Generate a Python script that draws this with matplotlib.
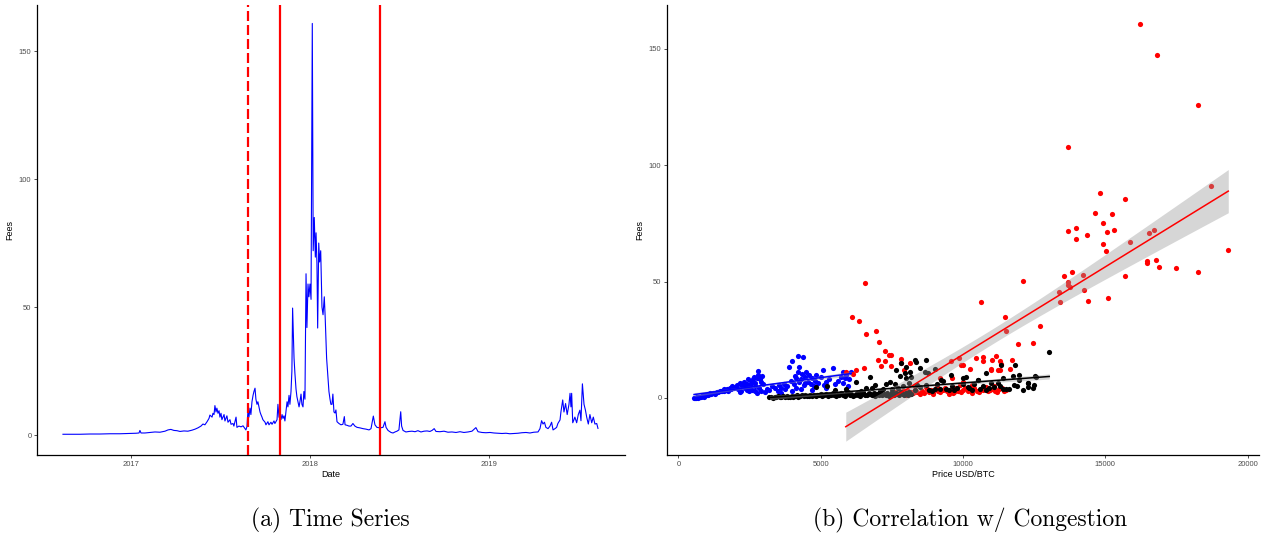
import numpy as np
import matplotlib
matplotlib.use("Agg")
import matplotlib.pyplot as plt

# ---------------- data: (a) time series (decimal year, fees) ----------------
ts_year = [2016.620, 2016.659, 2016.715, 2016.771, 2016.827, 2016.883, 2016.939, 2016.994, 2017.028, 2017.045,
           2017.050, 2017.056, 2017.078, 2017.106, 2017.134, 2017.162, 2017.190, 2017.207, 2017.223, 2017.240,
           2017.257, 2017.274, 2017.296, 2017.318, 2017.341, 2017.358, 2017.374, 2017.391, 2017.402, 2017.413,
           2017.425, 2017.436, 2017.441, 2017.453, 2017.458, 2017.464, 2017.469, 2017.475, 2017.480, 2017.486,
           2017.492, 2017.497, 2017.503, 2017.508, 2017.520, 2017.525, 2017.536, 2017.542, 2017.553, 2017.559,
           2017.570, 2017.575, 2017.587, 2017.592, 2017.603, 2017.615, 2017.626, 2017.637, 2017.642, 2017.648,
           2017.654, 2017.659, 2017.665, 2017.670, 2017.676, 2017.682, 2017.687, 2017.693, 2017.698, 2017.704,
           2017.709, 2017.715, 2017.721, 2017.726, 2017.732, 2017.737, 2017.749, 2017.754, 2017.765, 2017.771,
           2017.782, 2017.788, 2017.799, 2017.804, 2017.816, 2017.821, 2017.827, 2017.838, 2017.844, 2017.849,
           2017.855, 2017.860, 2017.872, 2017.877, 2017.883, 2017.888, 2017.894, 2017.899, 2017.903, 2017.911,
           2017.916, 2017.922, 2017.927, 2017.933, 2017.939, 2017.944, 2017.950, 2017.955, 2017.961, 2017.966,
           2017.972, 2017.978, 2017.983, 2017.989, 2017.994, 2018.000, 2018.006, 2018.013, 2018.018, 2018.024,
           2018.030, 2018.034, 2018.039, 2018.043, 2018.049, 2018.054, 2018.060, 2018.067, 2018.073, 2018.080,
           2018.085, 2018.093, 2018.101, 2018.106, 2018.112, 2018.117, 2018.123, 2018.128, 2018.134, 2018.140,
           2018.145, 2018.151, 2018.162, 2018.173, 2018.184, 2018.192, 2018.196, 2018.207, 2018.218, 2018.229,
           2018.240, 2018.251, 2018.263, 2018.279, 2018.296, 2018.313, 2018.330, 2018.341, 2018.354, 2018.363,
           2018.374, 2018.391, 2018.408, 2018.419, 2018.425, 2018.436, 2018.453, 2018.464, 2018.475, 2018.486,
           2018.497, 2018.507, 2018.512, 2018.520, 2018.536, 2018.553, 2018.570, 2018.587, 2018.603, 2018.620,
           2018.637, 2018.654, 2018.670, 2018.682, 2018.694, 2018.704, 2018.726, 2018.749, 2018.771, 2018.793,
           2018.816, 2018.838, 2018.860, 2018.883, 2018.905, 2018.927, 2018.939, 2018.961, 2018.983, 2019.006,
           2019.028, 2019.050, 2019.073, 2019.095, 2019.117, 2019.140, 2019.162, 2019.184, 2019.207, 2019.229,
           2019.251, 2019.274, 2019.285, 2019.294, 2019.302, 2019.310, 2019.318, 2019.330, 2019.341, 2019.350,
           2019.358, 2019.369, 2019.378, 2019.385, 2019.397, 2019.402, 2019.412, 2019.419, 2019.428, 2019.437,
           2019.447, 2019.453, 2019.458, 2019.462, 2019.468, 2019.475, 2019.480, 2019.490, 2019.499, 2019.508,
           2019.514, 2019.522, 2019.531, 2019.539, 2019.546, 2019.555, 2019.564, 2019.574, 2019.583, 2019.592,
           2019.602, 2019.609]
ts_fees = [0.3, 0.3, 0.3, 0.4, 0.4, 0.5, 0.5, 0.6, 0.7, 0.8,
           1.8, 0.8, 0.8, 1.0, 1.2, 1.1, 1.5, 2.0, 2.2, 1.8,
           1.7, 1.4, 1.6, 1.5, 1.9, 2.3, 2.8, 3.5, 4.3, 4.0,
           5.2, 6.5, 7.8, 7.0, 8.5, 8.0, 11.5, 9.0, 10.5, 8.5,
           9.5, 7.0, 8.5, 6.0, 8.0, 5.5, 7.5, 5.0, 6.0, 4.2,
           4.5, 3.5, 7.0, 3.0, 3.5, 3.2, 3.6, 2.5, 2.0, 3.3,
           9.8, 7.0, 10.5, 8.0, 13.0, 15.5, 17.0, 18.3, 14.0, 12.0,
           13.0, 11.0, 9.0, 8.0, 7.0, 6.0, 5.0, 4.0, 5.2, 4.0,
           5.0, 4.2, 5.5, 4.5, 6.0, 12.0, 7.0, 6.0, 8.0, 6.5,
           7.5, 5.5, 13.0, 11.0, 15.5, 12.0, 17.0, 25.0, 49.6, 30.0,
           24.0, 18.0, 15.0, 13.0, 11.0, 13.0, 16.0, 12.0, 11.0, 17.0,
           14.0, 63.0, 42.0, 59.0, 54.0, 59.0, 53.0, 160.8, 72.0, 85.0,
           69.5, 79.0, 67.0, 41.8, 75.0, 67.6, 72.0, 50.0, 47.0, 54.0,
           46.0, 30.0, 22.0, 17.0, 14.0, 12.0, 12.0, 16.0, 9.0, 8.6,
           9.8, 5.2, 4.5, 4.0, 4.2, 7.2, 4.0, 3.8, 3.5, 3.5,
           4.5, 3.5, 3.0, 2.8, 2.5, 2.3, 2.0, 2.5, 7.4, 4.0,
           3.0, 2.8, 3.0, 5.2, 3.0, 1.8, 1.0, 0.8, 1.2, 1.5,
           2.0, 9.1, 3.5, 1.8, 1.2, 1.4, 1.5, 1.3, 1.7, 1.2,
           1.5, 1.6, 1.4, 1.8, 2.5, 1.4, 1.3, 1.5, 1.1, 1.2,
           1.0, 1.3, 1.0, 1.2, 1.5, 2.9, 1.3, 1.0, 0.9, 1.0,
           0.8, 0.7, 0.6, 0.7, 0.5, 0.6, 0.7, 0.9, 1.0, 0.8,
           1.1, 1.2, 2.5, 5.6, 4.3, 5.0, 3.0, 2.5, 3.5, 5.0,
           2.0, 2.5, 3.0, 4.5, 5.9, 9.0, 13.7, 9.0, 12.3, 8.0,
           12.0, 16.3, 11.0, 16.3, 4.8, 6.0, 7.0, 4.8, 8.0, 9.7,
           5.6, 20.0, 12.0, 9.7, 7.0, 4.3, 8.0, 4.8, 7.0, 4.3,
           4.5, 2.6]
event_dashed = [2017.654]
event_solid = [2017.832, 2018.391]
ts_ticks = [2017, 2018, 2019]
ts_ticklabels = ["2017", "2018", "2019"]

# ---------------- data: (b) price vs fees, three periods ----------------
blue_x = [550, 580, 610, 640, 670, 700, 730, 760, 790, 820, 850, 880, 910, 940, 970, 1000, 1040, 1080, 1120, 1160,
          1200, 1250, 1300, 1350, 1400, 1450, 1500, 1550, 1600, 1650, 1700, 1750, 1800, 1850, 1900, 1950, 2000,
          700, 900, 1100, 1300, 1600, 1750, 1900,
          2050, 2100, 2150, 2200, 2250, 2300, 2350, 2400, 2450, 2500, 2550, 2600, 2650, 2700, 2750, 2780, 2800,
          2850, 2900, 2950, 2150, 2300, 2420, 2520, 2620, 2700, 2760, 2860, 2920, 2980, 2480, 2580, 2680, 2880,
          3050, 3100, 3200, 3300, 3400, 3500, 3550, 3600, 3700, 3750, 3800, 3900, 3950, 4000, 4050, 4100, 4150,
          4195, 4200, 4254, 4300, 4371, 4400, 4450, 4490, 4550, 4600, 4650, 4700, 4750, 4800, 4850, 4900, 5000,
          5074, 5100, 5200, 5300, 5425, 5500, 5600, 5700, 5777, 5800, 5850, 5900, 5950, 6000, 6072, 3600, 4000,
          4300, 4700, 5200, 4250, 4150, 4350, 4450]
blue_y = [0.1, 0.2, 0.1, 0.3, 0.4, 0.3, 0.5, 0.6, 0.5, 0.8, 0.9, 1.0, 0.9, 1.2, 1.3, 1.4, 1.5, 1.7, 1.6, 1.9,
          2.0, 2.3, 2.2, 2.5, 2.6, 2.8, 3.0, 3.2, 3.1, 3.5, 3.7, 3.6, 4.2, 4.0, 4.5, 4.3, 4.8,
          0.0, 0.4, 2.3, 1.6, 3.9, 3.0, 5.2,
          5.5, 4.0, 6.5, 3.2, 5.0, 7.0, 4.5, 6.0, 8.0, 5.5, 7.5, 3.5, 9.0, 6.5, 8.5, 11.6, 10.0,
          4.5, 7.0, 9.5, 2.5, 6.2, 3.5, 4.2, 8.0, 3.0, 2.0, 9.0, 3.0, 6.0, 2.8, 6.8, 5.2, 8.2,
          2.5, 4.0, 3.5, 5.0, 4.2, 3.0, 5.5, 4.5, 6.0, 3.8, 5.2, 13.5, 7.5, 15.9, 6.0, 9.5, 4.5,
          18.2, 11.0, 13.5, 8.0, 17.7, 5.5, 9.0, 11.3, 7.0, 10.0, 6.0, 8.5, 5.0, 7.5, 10.0, 6.5, 9.0,
          12.0, 5.5, 7.0, 8.0, 12.8, 6.0, 7.5, 9.0, 11.3, 6.5, 8.5, 10.0, 5.0, 8.0, 11.0, 2.0, 3.0,
          4.0, 3.5, 4.5, 7.0, 8.5, 10.5, 6.5]

red_x = [16230, 16806, 18259, 13704, 18720, 14822, 15688, 14626, 15241, 14906,
         13970, 13677, 15311, 15059, 16526, 16708, 13955, 14361, 15870, 14906,
         15031, 19320, 16470, 16470, 16764, 16904, 17477, 18259, 15688, 13844,
         13537, 14222, 13704, 13704, 13746, 12112, 13369, 14264, 13397, 14403,
         15087, 10617, 11483, 11497, 12699, 11916, 12461,
         6552, 6105, 6329, 6957, 6580, 7041, 7264, 6999, 7404, 7474,
         7250, 7125, 7474, 7837, 7837, 8130, 6524, 6231, 6119, 5881,
         7935, 9583, 9849, 9933, 10017, 10240, 10450, 10715, 10715, 11022,
         11148, 10994, 10994, 11232, 11316, 11302, 11344, 11665, 11707, 9178,
         9625, 10017,
         7520, 7600, 7680, 7760, 7840, 7920, 8000, 8080, 8160, 8240,
         8320, 8400, 8480, 8560, 8640, 8720, 8800, 8880, 8960, 9040,
         9120, 9200, 9280, 9360, 9440, 9520, 9600, 9680, 9760, 9840,
         9920, 10000, 10080, 10160, 10240, 10320, 10400, 10480, 10560, 10640,
         10720, 10800, 10880, 10960, 11040, 11120, 11200, 11280, 11360, 11440,
         11520, 8300, 8700, 9100, 9500, 9900, 10300, 10700, 11100, 8950,
         9650, 7900]
red_y = [160.7, 147.4, 125.9, 107.7, 91.0, 88.3, 85.4, 79.3, 79.1, 75.0,
         73.1, 71.9, 72.1, 71.4, 71.1, 72.3, 68.3, 69.9, 67.1, 66.3,
         63.3, 63.7, 59.0, 58.1, 59.4, 56.1, 56.0, 54.0, 52.4, 54.1,
         52.6, 52.7, 49.7, 48.4, 47.6, 50.4, 45.6, 46.3, 41.3, 41.9,
         43.1, 41.3, 35.0, 28.9, 31.1, 23.0, 23.7,
         49.6, 35.0, 32.9, 28.9, 27.6, 24.0, 20.3, 16.4, 18.6, 18.6,
         15.7, 13.6, 13.9, 16.9, 15.0, 15.0, 12.9, 12.1, 10.3, 11.0,
         12.1, 16.0, 17.0, 14.0, 14.0, 12.4, 17.4, 15.7, 17.7, 16.3,
         18.1, 12.1, 12.6, 11.9, 11.9, 15.7, 14.6, 12.4, 16.4, 8.6,
         8.6, 6.9,
         2.0, 2.5, 1.8, 3.0, 2.2, 2.8, 1.5, 3.2, 2.4, 2.0,
         3.5, 2.7, 1.9, 3.0, 2.3, 4.0, 2.6, 3.3, 2.1, 3.8,
         2.9, 2.4, 3.6, 4.2, 2.8, 3.1, 3.9, 2.5, 4.5, 3.0,
         2.6, 3.4, 4.1, 2.9, 3.7, 2.3, 4.4, 3.2, 2.7, 3.9,
         3.3, 4.6, 2.8, 3.6, 4.0, 3.1, 2.5, 3.8, 4.3, 2.9,
         3.4, 5.0, 4.8, 5.2, 1.6, 5.6, 5.4, 4.9, 5.1, 1.8,
         2.0, 3.0]

black_x = [3200, 3260, 3320, 3380, 3440, 3500, 3560, 3620, 3680, 3740,
           3800, 3860, 3920, 3980, 4040, 4100, 4160, 4220, 4280, 4340,
           4400, 4460, 4520, 4580, 4640, 4700, 4760, 4820, 4880, 4940,
           5000, 5060, 5120, 5180, 5240, 5300, 5360, 5420, 5480, 5540,
           5600, 5660, 5720, 5780, 5840, 5900, 5960, 6020, 6080, 6140,
           6200, 6260, 6320, 6380, 6440, 6500, 6560, 6620, 6680, 6740,
           6800, 6860, 6920, 6980, 7040, 7100, 7160, 7220, 7280, 7340,
           7400, 7460, 7520, 7580, 7640, 7700, 7760, 7820, 7880, 7940,
           8000, 8060, 8120, 8180,
           4840, 5230, 5500, 5900, 6250, 6400, 6600, 6900, 7100, 7300,
           7500, 7700, 7900, 8100, 8300, 8500, 8700, 8900, 9100, 9236,
           9400, 9600, 9800, 10000, 10160, 10300, 10525, 10700, 11000, 11227,
           11400, 11600, 11800, 11950, 12100, 12270, 12450, 9000, 9500, 10400,
           10900, 11300, 8800, 8400, 7600, 7200, 6800,
           9200, 9700, 10200, 10600, 11100, 11500, 11900, 12300, 12500, 10800,
           6716, 7419, 7654, 7830, 7946, 8005, 8122, 8181, 8298, 8357,
           8650, 8709, 8778, 9587, 9997, 10115, 10525, 10818, 11345, 11400,
           11750, 11814, 11967, 12294, 12545, 12576, 13030, 8500, 8000, 9000,
           7800, 9300]
black_y = [0.3, 0.5, 0.2, 0.6, 0.4, 0.8, 0.3, 0.5, 0.7, 0.4,
           0.9, 0.5, 0.6, 1.0, 0.4, 0.8, 1.2, 0.6, 0.9, 1.1,
           0.7, 1.3, 0.8, 1.0, 1.5, 0.9, 1.2, 0.7, 1.4, 1.1,
           1.6, 0.9, 1.3, 1.8, 1.0, 1.5, 1.2, 2.0, 1.4, 0.9,
           1.7, 1.1, 2.2, 1.3, 1.0, 1.6, 2.4, 1.2, 1.8, 1.0,
           1.5, 2.1, 1.3, 0.9, 1.7, 2.6, 1.4, 1.1, 2.0, 1.6,
           1.2, 2.3, 1.0, 1.8, 1.5, 2.7, 1.2, 1.9, 1.4, 2.2,
           1.0, 1.7, 2.5, 1.3, 2.0, 1.6, 1.1, 2.4, 1.8, 1.4,
           2.1, 1.2, 2.6, 1.7,
           4.9, 5.2, 3.5, 4.0, 7.0, 3.2, 4.5, 5.5, 3.0, 6.0,
           3.8, 4.2, 5.0, 6.5, 3.5, 4.8, 5.5, 3.2, 6.0, 7.7,
           3.8, 5.0, 4.2, 6.2, 4.6, 3.5, 7.7, 5.0, 6.6, 6.3,
           4.0, 3.8, 5.5, 7.7, 3.6, 6.4, 4.5, 4.0, 3.3, 5.8,
           4.2, 5.2, 3.6, 5.5, 6.2, 3.8, 4.4,
           4.0, 3.6, 4.4, 3.8, 4.6, 4.0, 5.0, 4.8, 5.5, 3.4,
           9.2, 7.0, 12.0, 14.9, 10.6, 13.5, 11.3, 9.2, 16.3, 15.5,
           11.3, 16.3, 10.6, 9.9, 8.4, 9.2, 7.7, 10.9, 14.2, 8.4,
           9.5, 14.2, 9.9, 6.4, 9.3, 8.9, 19.9, 13.0, 8.5, 12.5,
           9.5, 7.5]

price_ticks = [0, 5000, 10000, 15000, 20000]
fee_ticks = [0, 50, 100, 150]

assert len(ts_year) == len(ts_fees)
assert len(blue_x) == len(blue_y)
assert len(red_x) == len(red_y)
assert len(black_x) == len(black_y)

# ---------------- figure ----------------
W, H = 1265, 542
fig = plt.figure(figsize=(W / 100, H / 100), dpi=100)


def rect(l, t, r, b):
    return [l / W, 1 - b / H, (r - l) / W, (b - t) / H]


SANS = ["Liberation Sans", "DejaVu Sans"]


def style(ax):
    for s in ("top", "right"):
        ax.spines[s].set_visible(False)
    for s in ("left", "bottom"):
        ax.spines[s].set_linewidth(0.9)
        ax.spines[s].set_color("black")
    ax.tick_params(length=2.5, width=0.6, color="#333333", labelsize=5.5,
                   labelcolor="#4D4D4D", pad=1.5)
    for lab in ax.get_xticklabels() + ax.get_yticklabels():
        lab.set_family(SANS)


# (a) time series
ax1 = fig.add_axes(rect(37, 5, 625, 455))
ax1.plot(ts_year, ts_fees, color="#0000FF", lw=0.8, zorder=2)
for xv in event_dashed:
    ax1.axvline(xv, color="#FF0000", lw=1.6, dashes=(4.5, 1.8), zorder=3)
for xv in event_solid:
    ax1.axvline(xv, color="#FF0000", lw=1.6, zorder=3)
ax1.set_xlim(2016.475, 2019.76)
ax1.set_ylim(-7.8, 168)
ax1.set_xticks(ts_ticks)
ax1.set_xticklabels(ts_ticklabels)
ax1.set_yticks(fee_ticks)
style(ax1)
ax1.set_xlabel("Date", fontsize=6.5, family=SANS, labelpad=1.5)
ax1.set_ylabel("Fees", fontsize=6.5, family=SANS, labelpad=3.5)

# (b) correlation
ax2 = fig.add_axes(rect(667, 5, 1259, 455))
groups = [(blue_x, blue_y, "#0000FF"), (red_x, red_y, "#FF0000"), (black_x, black_y, "#000000")]
for gx, gy, c in groups:
    ax2.scatter(gx, gy, s=14, color=c, linewidths=0, zorder=2)

T975 = 1.97
for gx, gy, c in groups:
    x = np.asarray(gx, float)
    y = np.asarray(gy, float)
    slope, icpt = np.polyfit(x, y, 1)
    n = len(x)
    resid = y - (slope * x + icpt)
    s = np.sqrt(np.sum(resid ** 2) / (n - 2))
    xs = np.linspace(x.min(), x.max(), 80)
    fit = slope * xs + icpt
    se = s * np.sqrt(1.0 / n + (xs - x.mean()) ** 2 / np.sum((x - x.mean()) ** 2))
    ax2.fill_between(xs, fit - T975 * se, fit + T975 * se, color="#999999", alpha=0.4,
                     linewidth=0, zorder=3)
    ax2.plot(xs, fit, color=c, lw=1.1, zorder=4)

ax2.set_xlim(-400, 20400)
ax2.set_ylim(-24.5, 168.9)
ax2.set_xticks(price_ticks)
ax2.set_yticks(fee_ticks)
style(ax2)
ax2.set_xlabel("Price USD/BTC", fontsize=6.5, family=SANS, labelpad=1.5)
ax2.set_ylabel("Fees", fontsize=6.5, family=SANS, labelpad=3.5)

# captions
fig.text(330 / W, 1 - 520 / H, "(a) Time Series", family="cmr10", fontsize=17,
         ha="center", va="center")
fig.text(970 / W, 1 - 520 / H, "(b) Correlation w/ Congestion", family="cmr10", fontsize=17,
         ha="center", va="center")

fig.savefig("out.png", dpi=100)
